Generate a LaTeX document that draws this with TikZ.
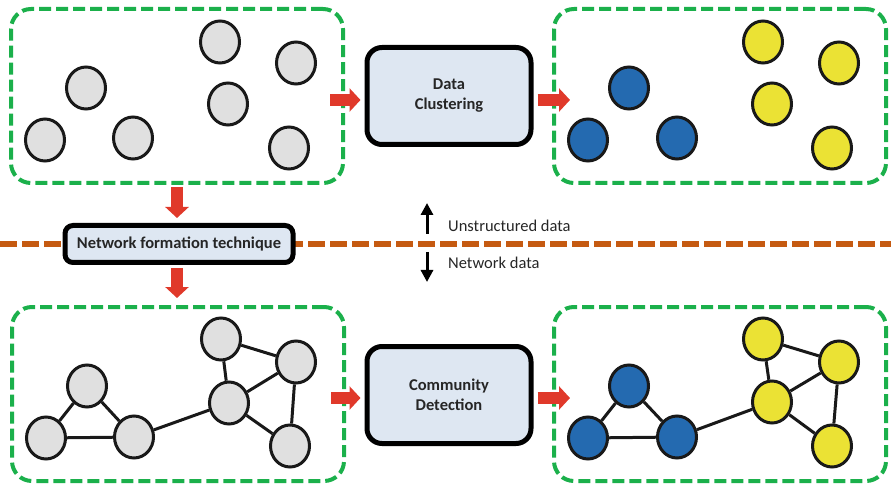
\documentclass[tikz,border=0pt]{standalone}
\usepackage{fontspec}
\setmainfont{Carlito}
\usetikzlibrary{shapes.geometric, arrows.meta}

\definecolor{groupgreen}{RGB}{27,176,75}
\definecolor{splitorange}{RGB}{197,90,17}
\definecolor{flowred}{RGB}{224,57,42}
\definecolor{boxblue}{RGB}{222,231,242}
\definecolor{dotgrey}{RGB}{224,224,224}
\definecolor{dotblue}{RGB}{36,106,176}
\definecolor{dotyellow}{RGB}{235,226,52}

\tikzset{
  groupbox/.style={rectangle, draw=groupgreen, line width=4pt, dash pattern=on 12pt off 5pt,
    rounded corners=20pt, minimum width=332pt, minimum height=174pt},
  procbox/.style={rectangle, draw=black, fill=boxblue, line width=5pt, rounded corners=15pt,
    minimum width=164pt, minimum height=97pt, align=center, text=black!85,
    font=\bfseries\fontsize{16.5}{20}\selectfont},
  ball/.style={ellipse, draw=black!90, line width=3pt, minimum width=39pt, minimum height=42pt, inner sep=0pt},
  greyball/.style={ball, fill=dotgrey},
  blueball/.style={ball, fill=dotblue},
  yellowball/.style={ball, fill=dotyellow},
  link/.style={draw=black!90, line width=3pt},
  flow/.style={draw=flowred, line width=12pt, -{Triangle[width=23pt,length=11pt]}},
  pointer/.style={draw=black, line width=3pt, -{Triangle[width=12pt,length=12pt]}},
  note/.style={anchor=west, inner sep=0pt, text=black!85, font=\fontsize{16.5}{20}\selectfont}
}

\begin{document}
\begin{tikzpicture}[x=1pt, y=-1pt]
  \useasboundingbox (0,0) rectangle (891,486);

  \draw[splitorange, line width=5.5pt, dash pattern=on 17pt off 5pt] (0,244) -- (891,244);

  \node[groupbox] (raw) at (177,96) {};
  \node[groupbox] (clu) at (720,96) {};
  \node[groupbox] (gra) at (178,394) {};
  \node[groupbox] (com) at (720,394) {};

  \node[procbox] (cluster) at (449,96) {\raisebox{-3pt}{Data}\\\raisebox{-3pt}{Clustering}};
  \node[procbox] (detect) at (449,395) {\raisebox{-2pt}{Community}\\\raisebox{-2pt}{Detection}};
  \node[procbox, rounded corners=8pt, minimum width=228pt, minimum height=37pt, inner sep=0pt] (form) at (179,244) {Network formation technique};

  % unstructured data
  \node[greyball] (r1) at (86,88) {};
  \node[greyball] (r2) at (45,140) {};
  \node[greyball] (r3) at (133,138) {};
  \node[greyball] (r4) at (220,42) {};
  \node[greyball] (r5) at (296,63) {};
  \node[greyball] (r6) at (228,104) {};
  \node[greyball] (r7) at (289,148) {};

  % clusters
  \node[blueball] (k1) at (629,88) {};
  \node[blueball] (k2) at (588,140) {};
  \node[blueball] (k3) at (677,138) {};
  \node[yellowball] (k4) at (763,42) {};
  \node[yellowball] (k5) at (839,63) {};
  \node[yellowball] (k6) at (772,104) {};
  \node[yellowball] (k7) at (832,148) {};

  % network
  \node[greyball] (g1) at (87,386) {};
  \node[greyball] (g2) at (46,438) {};
  \node[greyball] (g3) at (134,437) {};
  \node[greyball] (g4) at (221,339) {};
  \node[greyball] (g5) at (296,362) {};
  \node[greyball] (g6) at (229,403) {};
  \node[greyball] (g7) at (290,446) {};
  \foreach \a/\b in {1/2, 1/3, 2/3, 3/6, 4/5, 4/6, 6/5, 6/7, 5/7}
    \draw[link] (g\a) -- (g\b);

  % communities
  \node[blueball] (m1) at (629,386) {};
  \node[blueball] (m2) at (588,438) {};
  \node[blueball] (m3) at (677,437) {};
  \node[yellowball] (m4) at (763,339) {};
  \node[yellowball] (m5) at (839,362) {};
  \node[yellowball] (m6) at (772,402) {};
  \node[yellowball] (m7) at (832,446) {};
  \foreach \a/\b in {1/2, 1/3, 2/3, 3/6, 4/5, 4/6, 6/5, 6/7, 5/7}
    \draw[link] (m\a) -- (m\b);

  \draw[flow] ([xshift=-15pt, yshift=-4pt]raw.east) -- ([xshift=-4pt, yshift=-4pt]cluster.west);
  \draw[flow] ([xshift=4pt, yshift=-4pt]cluster.east) -- ([xshift=18pt, yshift=-4pt]clu.west);
  \draw[flow] ([xshift=-15pt, yshift=-4pt]gra.east) -- ([xshift=-4pt, yshift=-3pt]detect.west);
  \draw[flow] ([xshift=4pt, yshift=-3pt]detect.east) -- ([xshift=18pt, yshift=-4pt]com.west);
  \draw[flow, shorten <=2pt, shorten >=5pt] (raw.south) -- (raw.south |- form.north);
  \draw[flow, shorten <=3pt, shorten >=7pt] (raw.south |- form.south) -- (raw.south |- gra.north);

  \coordinate (split) at (427,244);
  \coordinate (upper) at (427,203);
  \coordinate (lower) at (427,282);
  \draw[pointer, shorten <=10pt] (split) -- (upper);
  \draw[pointer, shorten <=8pt] (split) -- (lower);
  \node[note] (unstr) at (448,226) {Unstructured data};
  \node[note] (netw) at (448,263) {Network data};
\end{tikzpicture}
\end{document}
